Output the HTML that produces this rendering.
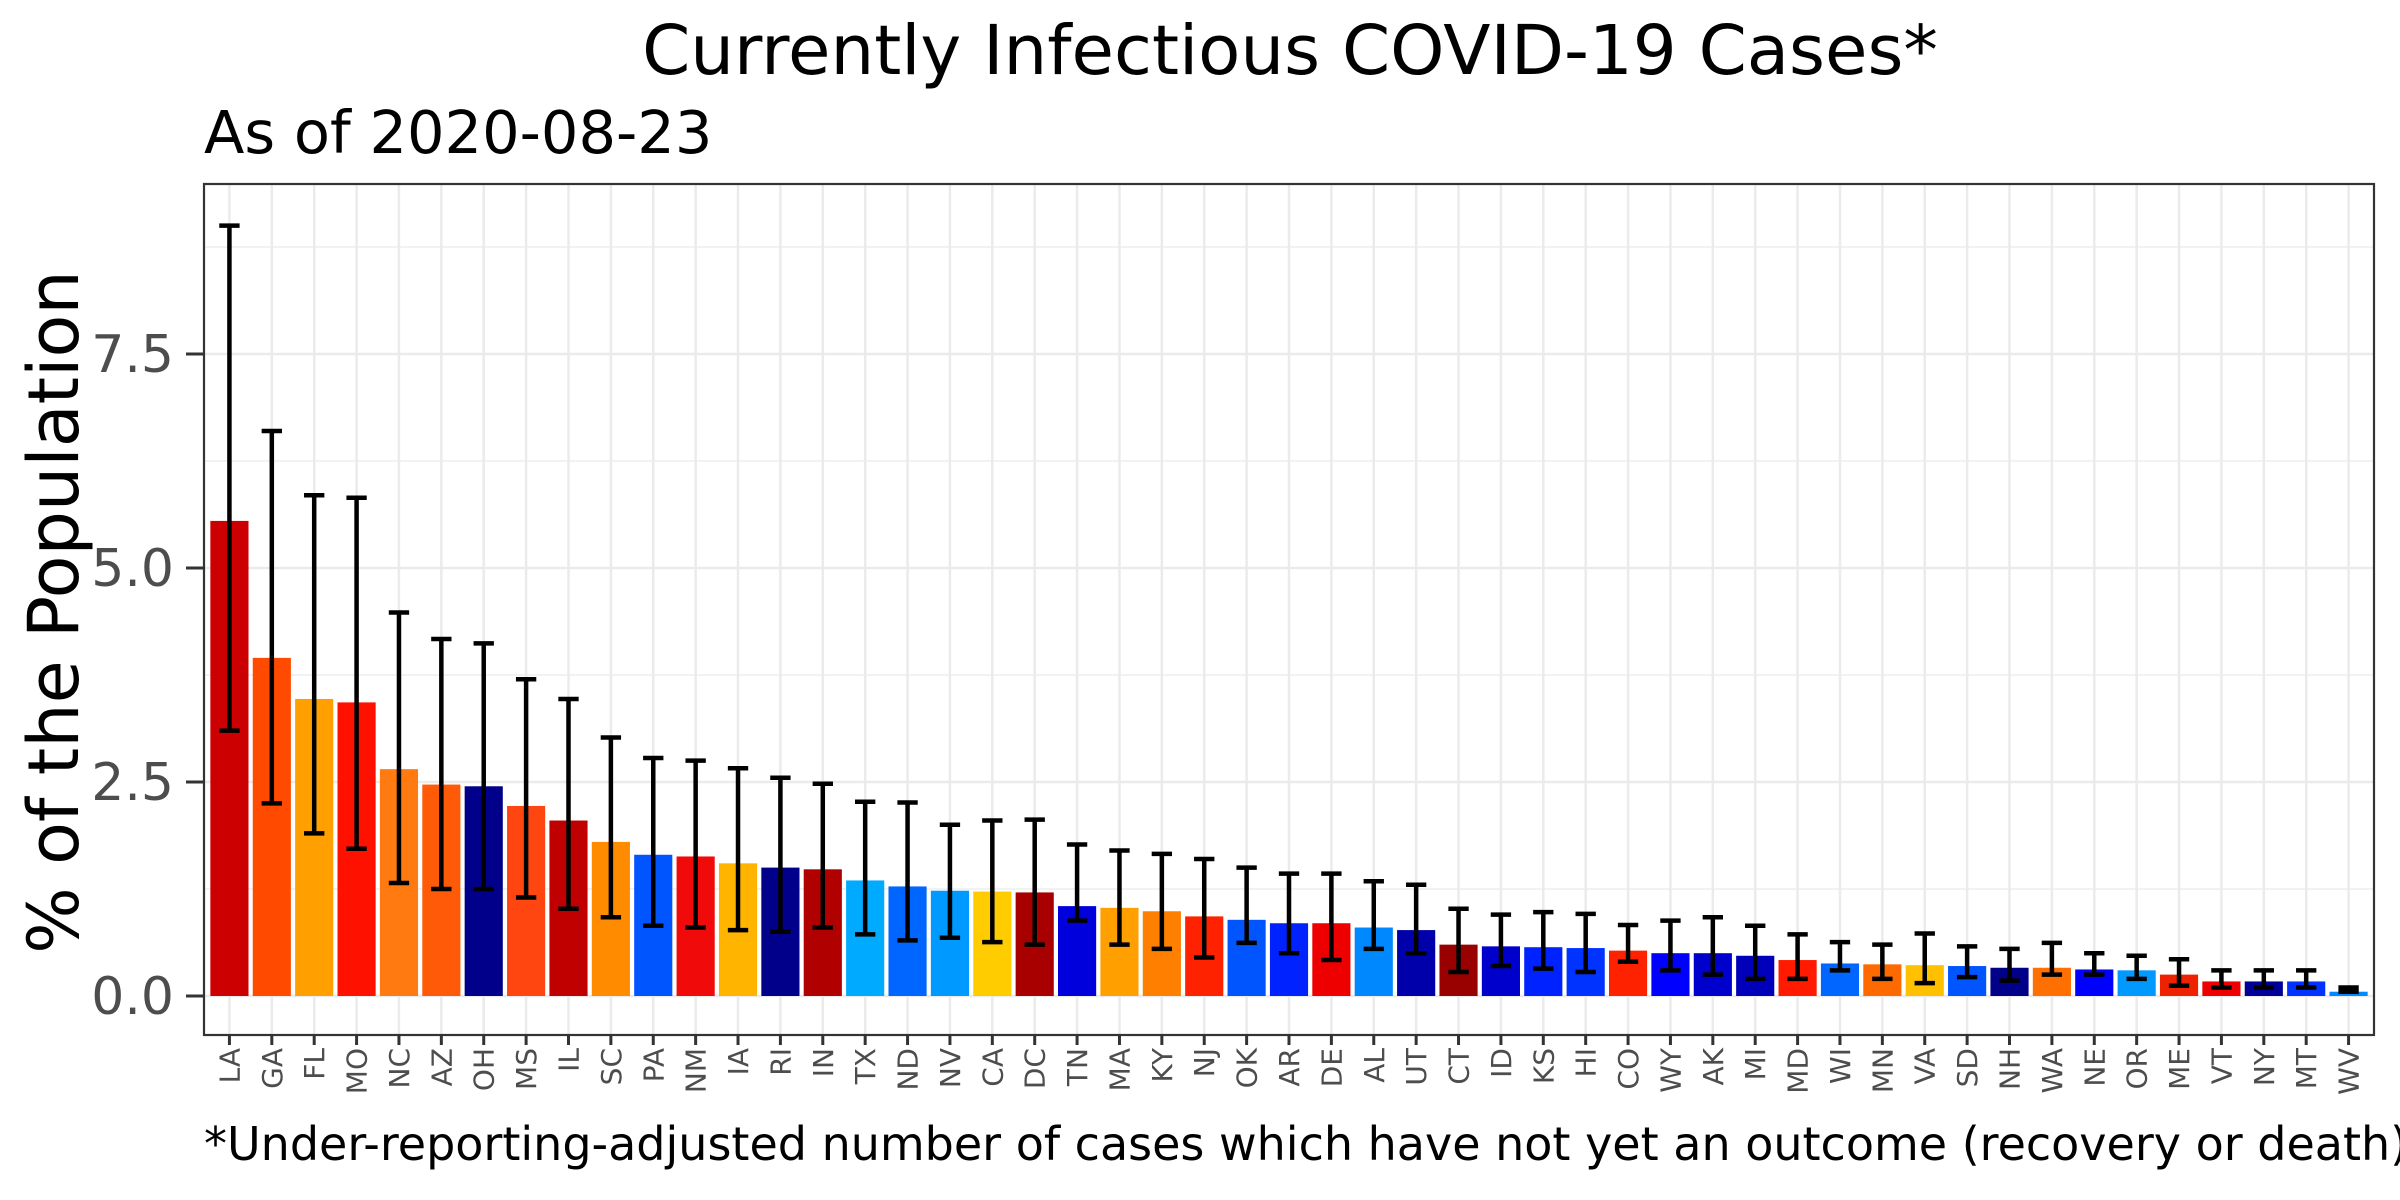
<!DOCTYPE html>
<html><head><meta charset="utf-8"><style>
html,body{margin:0;padding:0;background:#fff;}
svg{display:block;font-family:"DejaVu Sans","Liberation Sans",sans-serif;}
</style></head><body>
<svg id="chart" width="2400" height="1200" viewBox="0 0 2400 1200" xmlns="http://www.w3.org/2000/svg">
<rect width="2400" height="1200" fill="#fff"/>
<text x="1290" y="74" font-size="69" text-anchor="middle" fill="#000">Currently Infectious COVID-19 Cases*</text>
<text x="204" y="153" font-size="59" fill="#000">As of 2020-08-23</text>
<text transform="translate(78,612) rotate(-90)" font-size="70" text-anchor="middle" fill="#000">% of the Population</text>
<text x="204" y="1160" font-size="46" fill="#000">*Under-reporting-adjusted number of cases which have not yet an outcome (recovery or death)</text>
<g id="grid"></g>
<g id="bars"></g>
<g id="errs"></g>
<g id="axes"></g>
</svg>
<script>
const states = ["LA","GA","FL","MO","NC","AZ","OH","MS","IL","SC","PA","NM","IA","RI","IN","TX","ND","NV","CA","DC","TN","MA","KY","NJ","OK","AR","DE","AL","UT","CT","ID","KS","HI","CO","WY","AK","MI","MD","WI","MN","VA","SD","NH","WA","NE","OR","ME","VT","NY","MT","WV"];
const values = [5.55,3.95,3.47,3.43,2.65,2.47,2.45,2.22,2.05,1.8,1.65,1.63,1.55,1.5,1.48,1.35,1.28,1.23,1.22,1.21,1.05,1.03,0.99,0.93,0.89,0.85,0.85,0.8,0.77,0.6,0.58,0.57,0.56,0.53,0.5,0.5,0.47,0.42,0.38,0.37,0.36,0.35,0.33,0.33,0.31,0.3,0.25,0.17,0.17,0.17,0.05];
const lower = [3.1,2.25,1.9,1.72,1.32,1.25,1.25,1.15,1.02,0.92,0.82,0.8,0.77,0.75,0.8,0.72,0.65,0.68,0.63,0.6,0.88,0.6,0.55,0.45,0.62,0.5,0.42,0.55,0.5,0.28,0.35,0.32,0.28,0.4,0.3,0.25,0.2,0.2,0.3,0.2,0.15,0.22,0.18,0.25,0.25,0.2,0.12,0.1,0.1,0.1,0.05];
const upper = [9.0,6.6,5.85,5.82,4.48,4.17,4.12,3.7,3.47,3.02,2.78,2.75,2.66,2.55,2.48,2.27,2.26,2.0,2.05,2.06,1.77,1.7,1.66,1.6,1.5,1.43,1.43,1.34,1.3,1.02,0.95,0.98,0.96,0.83,0.88,0.92,0.82,0.72,0.63,0.6,0.73,0.58,0.55,0.62,0.5,0.47,0.43,0.3,0.3,0.3,0.1];
const colors = ["#cc0000","#ff4a00","#ff9f00","#ff1100","#ff7a10","#ff5a08","#00008b","#ff4510","#c00000","#ff8c00","#0055ff","#f00a0a","#ffb400","#00008b","#b00000","#00aaff","#0066ff","#0099ff","#ffcc00","#a80000","#0000dd","#ffa000","#ff7f00","#ff2200","#0055ff","#0022ff","#ee0000","#0088ff","#0000aa","#990000","#0000cc","#0022ff","#0033ff","#ff2200","#0000ff","#0000cc","#0000bb","#ff1a00","#0066ff","#ff6a00","#ffc000","#0055ff","#000088","#ff7000","#0000ff","#0099ff","#ee2200","#ee0000","#000099","#0033ff","#0088ff"];
const yTicks = [0,2.5,5,7.5];
const yTickLabels = ["0.0","2.5","5.0","7.5"];

const NS="http://www.w3.org/2000/svg";
const L=204,R=2374,T=184,B=1035;
const y0=996, pxPerUnit=(996-354)/7.5;
const n=states.length;
const step=(R-L)/(n-1+1.2);
function x(i){return L+(i+0.6)*step;}
function y(v){return y0-v*pxPerUnit;}
function mk(tag,attrs,parent){const e=document.createElementNS(NS,tag);for(const k in attrs)e.setAttribute(k,attrs[k]);parent.appendChild(e);return e;}
const grid=document.getElementById('grid'),bars=document.getElementById('bars'),errs=document.getElementById('errs'),axes=document.getElementById('axes');
mk('rect',{x:L,y:T,width:R-L,height:B-T,fill:'#fff'},grid);
for(let k=0;k<yTicks.length;k++){const v=yTicks[k]+1.25;if(y(v)>T){const g=mk('line',{x1:L,x2:R,y1:y(v),y2:y(v),stroke:'#ebebeb','stroke-width':1.2},grid);}}
for(let k=0;k<yTicks.length;k++){const g=mk('line',{x1:L,x2:R,y1:y(yTicks[k]),y2:y(yTicks[k]),stroke:'#ebebeb','stroke-width':2.5},grid);}
for(let i=0;i<n;i++){const g=mk('line',{x1:x(i),x2:x(i),y1:T,y2:B,stroke:'#ebebeb','stroke-width':2.5},grid);}
const bw=step*0.9;
for(let i=0;i<n;i++){
  const r=mk('rect',{x:x(i)-bw/2,y:y(values[i]),width:bw,height:y0-y(values[i]),fill:colors[i]},bars);
  
  
  const cw=step*0.24;
  const g=mk('g',{stroke:'#000','stroke-width':4.5},errs);
  
  
  mk('line',{x1:x(i),x2:x(i),y1:y(lower[i]),y2:y(upper[i])},g);
  mk('line',{x1:x(i)-cw,x2:x(i)+cw,y1:y(lower[i]),y2:y(lower[i])},g);
  mk('line',{x1:x(i)-cw,x2:x(i)+cw,y1:y(upper[i]),y2:y(upper[i])},g);
  const t=mk('line',{x1:x(i),x2:x(i),y1:B,y2:B+10,stroke:'#333','stroke-width':3},axes);
  
  
  const lb=mk('text',{transform:`translate(${x(i)+10},${B+13}) rotate(-90)`,'font-size':28,'text-anchor':'end',fill:'#4d4d4d'},axes);
  lb.textContent=states[i];
  
  
}
for(let k=0;k<yTicks.length;k++){
  const t=mk('line',{x1:L-18,x2:L,y1:y(yTicks[k]),y2:y(yTicks[k]),stroke:'#333','stroke-width':3},axes);
  
  
  const lb=mk('text',{x:L-30,y:y(yTicks[k])+18,'font-size':52,'text-anchor':'end',fill:'#4d4d4d'},axes);
  lb.textContent=yTickLabels[k];
  
  
}
const fr=mk('rect',{x:L,y:T,width:R-L,height:B-T,fill:'none',stroke:'#333','stroke-width':2.2},axes);


</script>
</body></html>
